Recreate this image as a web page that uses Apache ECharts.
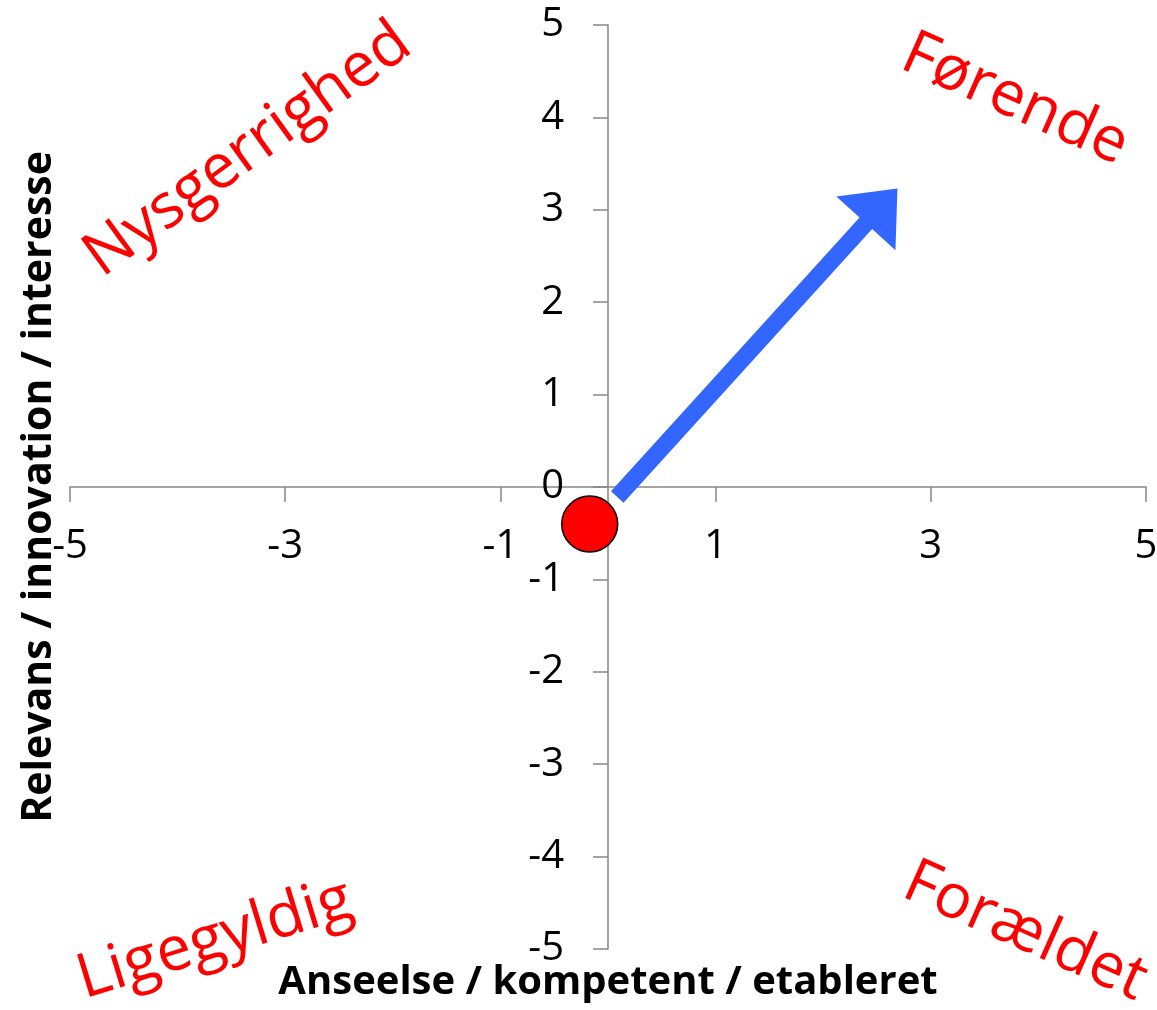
<!DOCTYPE html>
<html>
<head>
<meta charset="utf-8">
<script src="https://cdn.jsdelivr.net/npm/echarts@6/dist/echarts.min.js"></script>
<style>html,body{margin:0;padding:0;background:#fff;}#c{width:1157px;height:1010px;}</style>
</head>
<body>
<div id="c"></div>
<script>
var xTicks = [-5, -3, -1, 1, 3, 5];
var yTicks = [-5, -4, -3, -2, -1, 0, 1, 2, 3, 4, 5];
var xAxisName = 'Anseelse / kompetent / etableret';
var yAxisName = 'Relevans / innovation / interesse';
var pointData = [[-0.17, -0.40]];
var arrowData = [[0.086, -0.108, 2.69, 3.23]];
var quadrantLabels = ['Nysgerrighed', 'Førende', 'Ligegyldig', 'Forældet'];

var FONT = '"Open Sans", sans-serif';
var GRID = { left: 70, right: 11, top: 25, bottom: 61 };
var W = 1157, H = 1010;
var gridW = W - GRID.left - GRID.right, gridH = H - GRID.top - GRID.bottom;
var chart = echarts.init(document.getElementById('c'));
var axisColor = '#868686';

function arrowRender(params, api) {
  var p0 = api.coord([api.value(0), api.value(1)]);
  var p1 = api.coord([api.value(2), api.value(3)]);
  var dx = p1[0] - p0[0], dy = p1[1] - p0[1];
  var len = Math.sqrt(dx * dx + dy * dy);
  var ux = dx / len, uy = dy / len;
  var nx = -uy, ny = ux;
  var hw = 8.5, hl = 47, hh = 40;
  var bx = p1[0] - ux * hl, by = p1[1] - uy * hl;
  var pts = [
    [p0[0] + nx * hw, p0[1] + ny * hw],
    [bx + nx * hw, by + ny * hw],
    [bx + nx * hh, by + ny * hh],
    [p1[0], p1[1]],
    [bx - nx * hh, by - ny * hh],
    [bx - nx * hw, by - ny * hw],
    [p0[0] - nx * hw, p0[1] - ny * hw]
  ];
  return { type: 'polygon', shape: { points: pts }, style: { fill: '#3366FF' } };
}

var redText = { fill: '#FF0000', font: '62px ' + FONT, textAlign: 'center', textVerticalAlign: 'middle' };

var option = {
  backgroundColor: '#ffffff',
  animation: false,
  grid: { left: GRID.left, right: GRID.right, top: GRID.top, bottom: GRID.bottom, containLabel: false, outerBoundsMode: 'none' },
  xAxis: [{
    type: 'value', min: -5, max: 5, interval: 2, position: 'bottom', offset: -gridH / 2,
    axisLine: { show: true, onZero: false, lineStyle: { color: axisColor, width: 1.5 } },
    axisTick: { show: true, length: 15, lineStyle: { color: axisColor, width: 1.5 } },
    axisLabel: { color: '#000', fontSize: 40, fontFamily: FONT, margin: 40,
      formatter: function (v) { return xTicks.indexOf(v) >= 0 ? String(v) : ''; } },
    splitLine: { show: false }
  }, {
    type: 'value', min: -5, max: 5, position: 'bottom',
    axisLine: { show: false }, axisTick: { show: false }, axisLabel: { show: false }, splitLine: { show: false },
    name: xAxisName, nameLocation: 'middle', nameGap: 14,
    nameTextStyle: { color: '#000', fontSize: 40, fontWeight: 'bold', fontFamily: FONT, verticalAlign: 'top' }
  }],
  yAxis: [{
    type: 'value', min: -5, max: 5, interval: 1, position: 'left', offset: -gridW / 2,
    axisLine: { show: true, onZero: false, lineStyle: { color: axisColor, width: 1.5 } },
    axisTick: { show: true, length: 15, lineStyle: { color: axisColor, width: 1.5 } },
    axisLabel: { color: '#000', fontSize: 40, fontFamily: FONT, margin: 44,
      formatter: function (v) { return yTicks.indexOf(v) >= 0 ? String(v) : ''; } },
    splitLine: { show: false }
  }, {
    type: 'value', min: -5, max: 5, position: 'left',
    axisLine: { show: false }, axisTick: { show: false }, axisLabel: { show: false }, splitLine: { show: false },
    name: yAxisName, nameLocation: 'middle', nameGap: 10, nameRotate: 90,
    nameTextStyle: { color: '#000', fontSize: 41, fontWeight: 'bold', fontFamily: FONT }
  }],
  series: [{
    type: 'custom', xAxisIndex: 0, yAxisIndex: 0,
    renderItem: arrowRender, data: arrowData, clip: false, z: 3,
    encode: { x: [0, 2], y: [1, 3] }
  }, {
    type: 'scatter', xAxisIndex: 0, yAxisIndex: 0,
    data: pointData, symbol: 'circle', symbolSize: 56, z: 4,
    itemStyle: { color: '#FF0000', borderColor: '#000', borderWidth: 1.5, opacity: 1 }
  }],
  graphic: [
    { type: 'text', x: 248, y: 150, rotation: 36 * Math.PI / 180, style: Object.assign({ text: quadrantLabels[0] }, redText) },
    { type: 'text', x: 1015, y: 100, rotation: -24 * Math.PI / 180, style: Object.assign({ text: quadrantLabels[1] }, redText) },
    { type: 'text', x: 215, y: 940, rotation: 17 * Math.PI / 180, style: Object.assign({ text: quadrantLabels[2] }, redText) },
    { type: 'text', x: 1025, y: 932, rotation: -24 * Math.PI / 180, style: Object.assign({ text: quadrantLabels[3] }, redText) }
  ]
};
chart.setOption(option);
</script>
</body>
</html>
